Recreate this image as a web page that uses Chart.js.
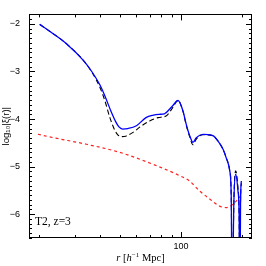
<!DOCTYPE html>
<html><head><meta charset="utf-8">
<script src="https://cdn.jsdelivr.net/npm/chart.js@4"></script>
<style>html,body{margin:0;padding:0;background:#fff}#w{width:266px;height:266px}</style>
</head><body><div id="w"><canvas id="c"></canvas></div>
<script>
// Data
const rFull  = [20.1, 23.5, 27.3, 32.9, 36.3, 39.8, 42.1, 45.1, 47.7, 49.3, 51.6, 54.6, 60.3, 67.2, 72.5, 78, 82.8, 88.0, 91, 96.7, 102.3, 106, 110.4, 114.6, 119, 128.3, 143.7, 152, 161, 167, 174, 177, 178.7, 182.4, 186, 191, 193.5, 195.3, 196.6, 198.4];
const xiFull = [-2.01, -2.21, -2.42, -2.76, -3.00, -3.28, -3.51, -3.83, -4.06, -4.16, -4.21, -4.20, -4.14, -3.97, -3.92, -3.90, -3.89, -3.79, -3.72, -3.61, -3.83, -4.10, -4.35, -4.49, -4.39, -4.32, -4.35, -4.46, -4.63, -4.81, -5.09, -5.65, -8, -5.72, -5.16, -5.51, -6.0, -8, -5.8, -5.30];
const rAlt   = [20.1, 23.5, 27.3, 32.9, 36.3, 39.8, 42.1, 44.6, 47.1, 48.8, 50.9, 53.4, 58.0, 64, 70.1, 77, 84.8, 91, 96.7, 102.3, 106, 110.4, 114.6, 119, 128.3, 143.7, 152, 161, 167, 174, 177, 178.7, 182.4, 186, 191, 193.5, 195.3, 196.6, 198.4];
const xiAlt  = [-2.01, -2.21, -2.42, -2.76, -3.01, -3.33, -3.61, -3.97, -4.23, -4.33, -4.37, -4.36, -4.28, -4.14, -4.04, -3.97, -3.93, -3.76, -3.61, -3.84, -4.12, -4.37, -4.54, -4.42, -4.33, -4.35, -4.46, -4.63, -4.81, -5.09, -5.65, -8, -5.68, -5.09, -5.45, -6.0, -8, -5.8, -5.35];
const rLin   = [19.7, 23.4, 34.2, 49.9, 75.7, 98.5, 110, 123.5, 138.5, 155, 167, 175, 183.6, 198];
const xiLin  = [-4.32, -4.39, -4.53, -4.70, -4.98, -5.19, -5.30, -5.51, -5.68, -5.83, -5.86, -5.83, -5.76, -5.61];
const yMajor = [-6, -5, -4, -3, -2];
const xMajor = [100];
const xMinor = [20, 30, 40, 50, 60, 70, 80, 90, 200];

const pts = (xs, ys) => xs.map((x, i) => ({x: x, y: ys[i]}));

const decor = {
  id: 'decor',
  afterDraw(chart) {
    const ctx = chart.ctx, a = chart.chartArea;
    const xs = chart.scales.x, ys = chart.scales.y;
    ctx.save();
    ctx.strokeStyle = '#000'; ctx.lineWidth = 1;
    ctx.strokeRect(Math.round(a.left) + 0.5, Math.round(a.top) + 0.5, Math.round(a.right - a.left) - 1, Math.round(a.bottom - a.top) - 1);
    ctx.beginPath();
    for (let k = -65; k <= -18; k++) {
      const y = Math.round(ys.getPixelForValue(k / 10)) + 0.5;
      const len = (k % 10 === 0) ? 6 : 3;
      ctx.moveTo(a.left, y); ctx.lineTo(a.left + len, y);
      ctx.moveTo(a.right, y); ctx.lineTo(a.right - len, y);
    }
    const allX = xMinor.map(v => [v, 3]).concat(xMajor.map(v => [v, 6]));
    for (const [v, len] of allX) {
      const x = Math.round(xs.getPixelForValue(v)) + 0.5;
      ctx.moveTo(x, a.bottom); ctx.lineTo(x, a.bottom - len);
      ctx.moveTo(x, a.top); ctx.lineTo(x, a.top + len);
    }
    ctx.stroke();
    ctx.fillStyle = '#000';
    // annotation
    ctx.font = '11.5px "Liberation Serif"';
    ctx.textBaseline = 'alphabetic'; ctx.textAlign = 'left';
    ctx.fillText('T2, z=3', 35, 225);
    // x title
    const parts = [['r', 'italic 10.5px "Liberation Serif"', 0], [' [', '10.5px "Liberation Serif"', 0], ['h', 'italic 10.5px "Liberation Serif"', 0], ['\u22121', '7px "Liberation Serif"', -4], [' Mpc]', '10.5px "Liberation Serif"', 0]];
    let w = 0;
    for (const p of parts) { ctx.font = p[1]; w += ctx.measureText(p[0]).width; }
    let x = (a.left + a.right) / 2 - w / 2;
    for (const p of parts) { ctx.font = p[1]; ctx.fillText(p[0], x, 261 + p[2]); x += ctx.measureText(p[0]).width; }
    // y title
    ctx.translate(9, (a.top + a.bottom) / 2);
    ctx.rotate(-Math.PI / 2);
    ctx.textAlign = 'center';
    ctx.font = '9.5px "Liberation Sans"';
    ctx.fillText('log\u2081\u2080|\u03BE(r)|', 0, 0);
    ctx.restore();
  }
};

new Chart(document.getElementById('c'), {
  type: 'line',
  data: {
    datasets: [
      {data: pts(rFull, xiFull), borderColor: '#0000ff', borderWidth: 1.3, pointRadius: 0, cubicInterpolationMode: 'monotone'},
      {data: pts(rAlt, xiAlt), borderColor: '#000000', borderWidth: 1.1, borderDash: [5, 3], pointRadius: 0, cubicInterpolationMode: 'monotone'},
      {data: pts(rLin, xiLin), borderColor: '#ff2020', borderWidth: 1.2, borderDash: [3, 3], pointRadius: 0, cubicInterpolationMode: 'monotone'}
    ]
  },
  options: {
    responsive: true, maintainAspectRatio: false, animation: false, devicePixelRatio: 1,
    layout: {padding: {left: 0, top: 14, right: 14, bottom: 0}},
    plugins: {legend: {display: false}, tooltip: {enabled: false}},
    scales: {
      x: {
        type: 'logarithmic', min: 17.8, max: 224,
        grid: {display: false, drawTicks: false}, border: {display: false},
        afterBuildTicks: s => { s.ticks = xMajor.map(v => ({value: v})); },
        afterFit: s => { s.height = 28; },
        ticks: {padding: 3, color: '#000', font: {family: 'Liberation Sans', size: 9}, maxRotation: 0, callback: v => String(v)}
      },
      y: {
        type: 'linear', min: -6.5, max: -1.8,
        grid: {display: false, drawTicks: false}, border: {display: false},
        afterBuildTicks: s => { s.ticks = yMajor.map(v => ({value: v})); },
        afterFit: s => { s.width = 29; },
        ticks: {padding: 9, color: '#000', font: {family: 'Liberation Sans', size: 9}, callback: v => '\u2212' + Math.abs(v)}
      }
    }
  },
  plugins: [decor]
});
</script></body></html>
